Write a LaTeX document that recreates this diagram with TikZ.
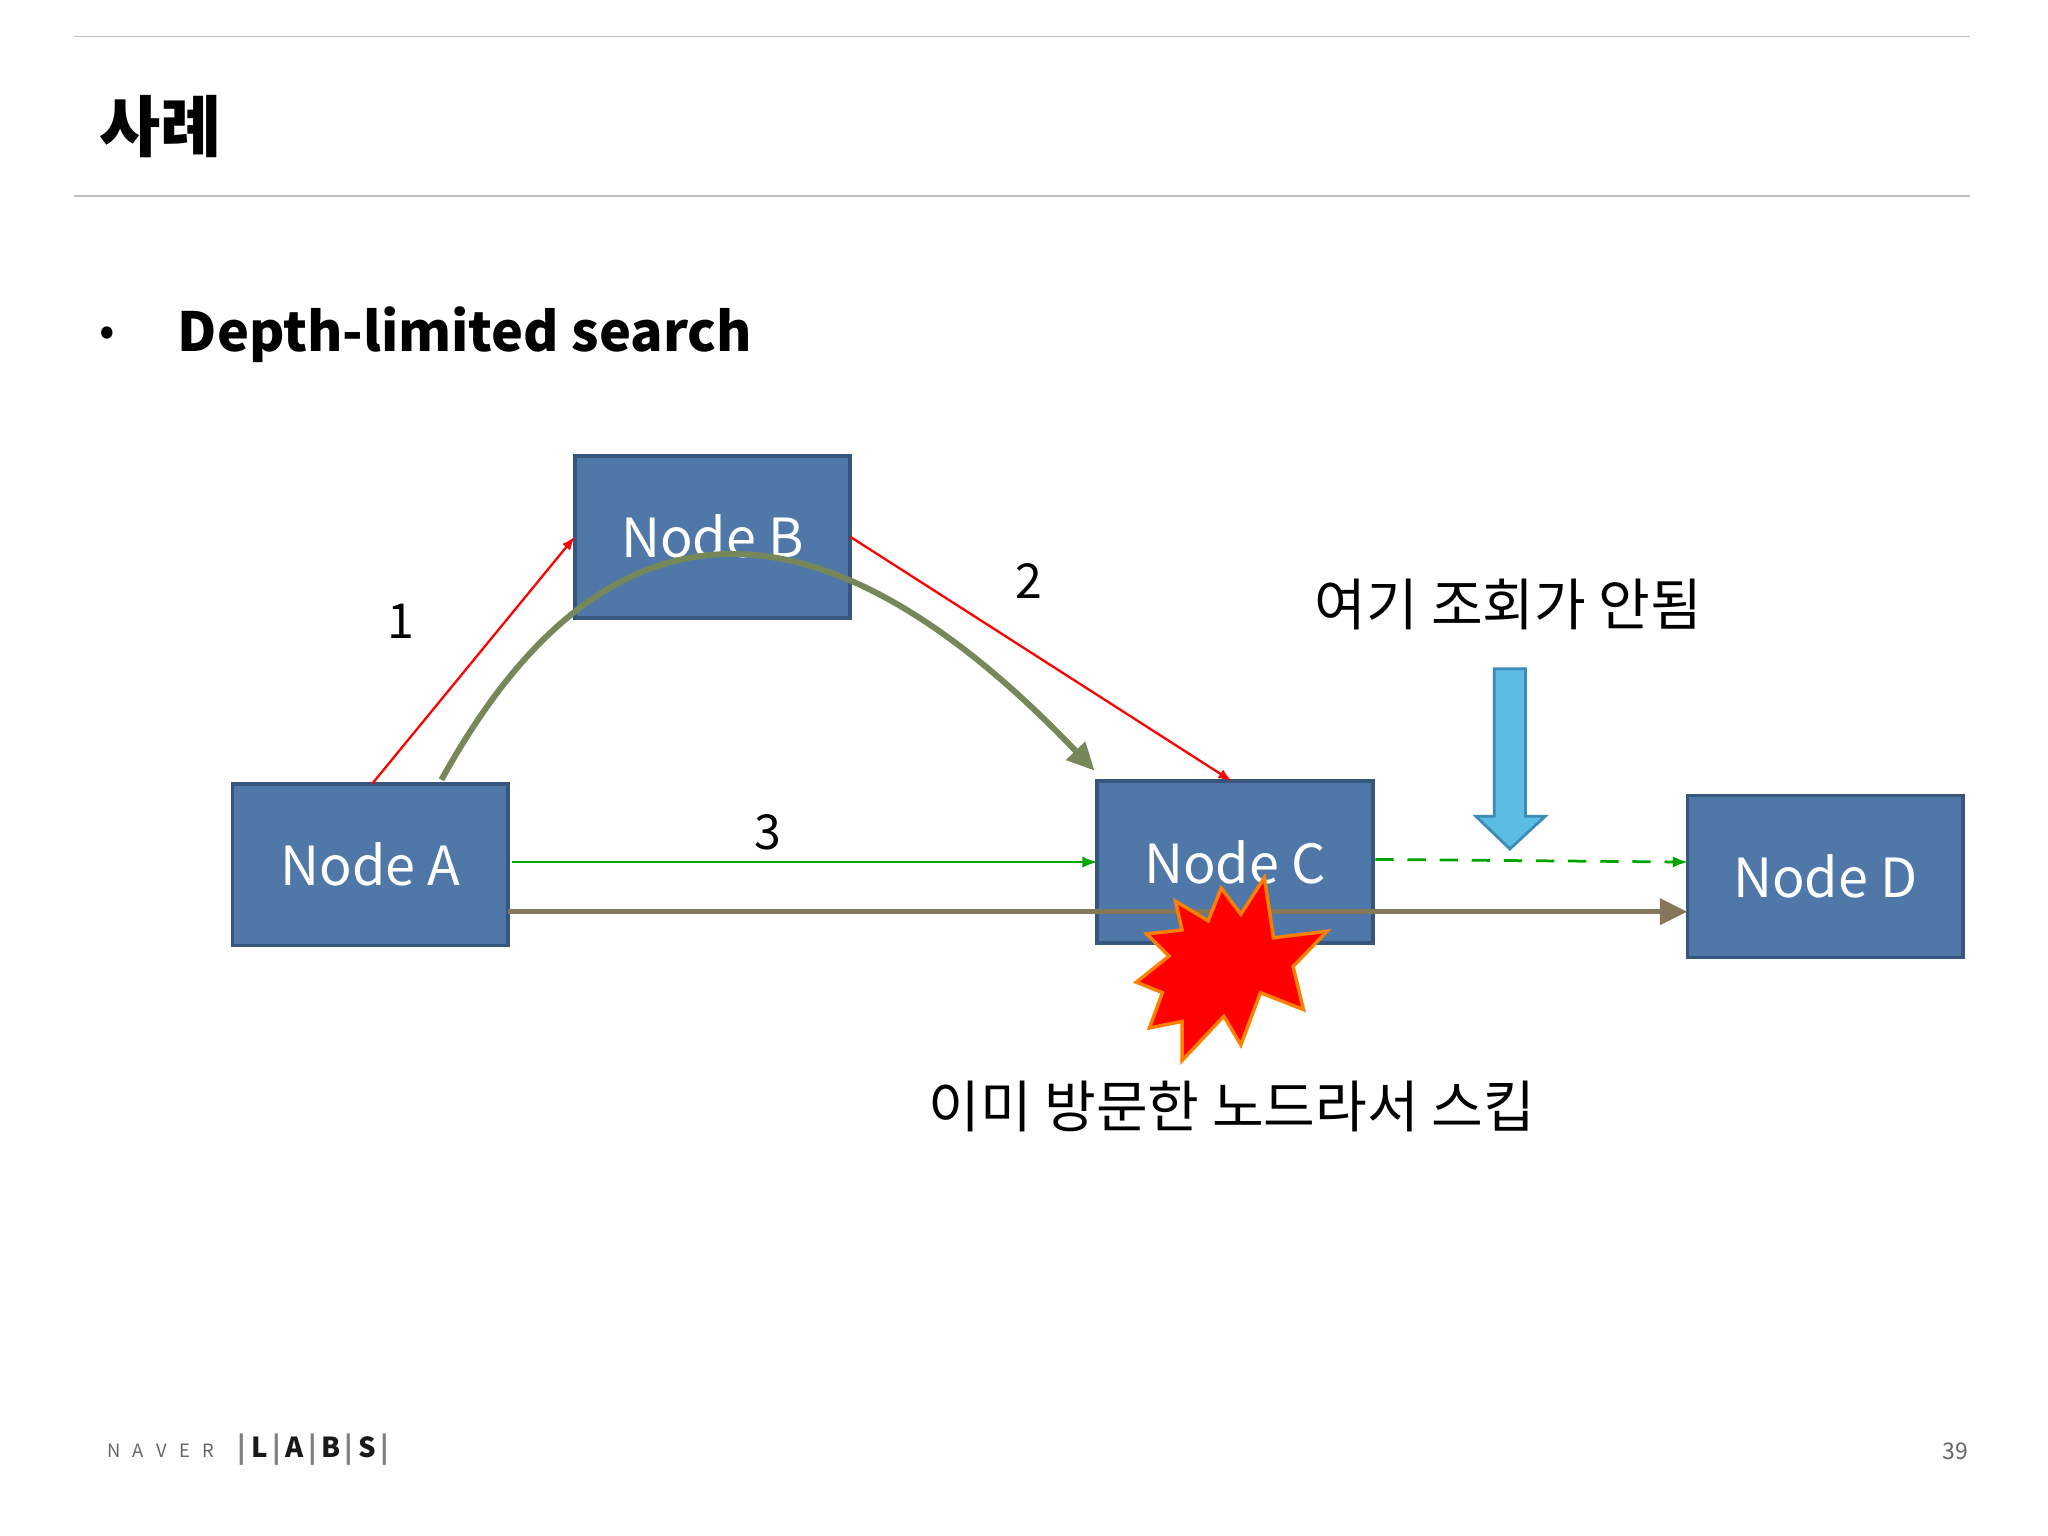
\documentclass[tikz,border=0pt]{standalone}
\usepackage{fontspec}
\usetikzlibrary{arrows.meta}
\setmainfont{Noto Sans CJK KR}
\begin{document}
\begin{tikzpicture}[x=0.02cm,y=-0.02cm,
  nodebox/.style={fill=nodefill, line width=1.6pt, minimum width=4.22cm, minimum height=2.48cm, text=white, font=\fontsize{23.5}{26}\selectfont, inner sep=0},
  lbl/.style={font=\fontsize{21}{24}\selectfont, inner sep=0},
  klbl/.style={font=\fontsize{24.5}{28}\selectfont, inner sep=0}]
\definecolor{nodefill}{HTML}{4F78A8}
\definecolor{nodeedge}{HTML}{36567E}
\definecolor{olive}{HTML}{76875A}
\definecolor{brownl}{HTML}{85785A}
\definecolor{skyb}{HTML}{5BBCE4}
\definecolor{skyedge}{HTML}{3A8CB5}
\tikzset{nodebox/.append style={draw=nodeedge}}
\useasboundingbox (0,0) rectangle (1568,1176);
\fill[white] (0,0) rectangle (1568,1176);
\draw[gray!50, line width=0.6pt] (57,28) -- (1508,28);
\draw[gray!50, line width=0.6pt] (57,150) -- (1508,150);
\node[anchor=west, font=\fontsize{29}{34}\selectfont\bfseries] (title) at (70,97) {사례};
\node[font=\fontsize{20}{24}\selectfont] (bul) at (82,258) {•};
\node[anchor=west, font=\fontsize{23.5}{28}\selectfont\bfseries] (sub) at (130,256) {Depth-limited search};
\node[nodebox] (B) at (545.5,411) {Node B};
\node[nodebox] (A) at (283.5,662) {Node A};
\node[nodebox] (C) at (945.5,660) {Node C};
\node[nodebox] (D) at (1397.5,671) {Node D};
\draw[red, line width=1pt, -latex] (285,600) -- (440,411);
\draw[red, line width=1pt, -latex] (651,411) -- (943,598);
\node[lbl] (l1) at (307,476) {1};
\node[lbl] (l2) at (788,445) {2};
\draw[green!65!black, line width=1.2pt, -latex] (392,660) -- (840,660);
\node[lbl] (l3) at (588,637) {3};
\draw[green!65!black, line width=1.2pt, dash pattern=on 8pt off 6pt, -latex] (1053,658) -- (1292,660);
\draw[brownl, line width=2.4pt, -{Triangle[length=12pt,width=11pt]}] (389,698) -- (1292,698);
\draw[olive, line width=2.6pt, -{Triangle[length=12pt,width=11pt]}] (338,597) .. controls (430,430) and (580,320) .. (838,590);
\draw[skyedge, fill=skyb, line width=1.2pt] (1144,512) -- (1168,512) -- (1168,625) -- (1183,625) -- (1156,650) -- (1130,625) -- (1144,625) -- cycle;
\node[klbl] (t1) at (1155,463) {여기 조회가 안됨};
\draw[orange, fill=red, line width=1.5pt] (968,672) -- (975,718) -- (1016,713) -- (990,740) -- (998,773) -- (965,760) -- (950,800) -- (937,778) -- (905,812) -- (905,782) -- (880,787) -- (890,760) -- (870,752) -- (895,732) -- (878,715) -- (905,712) -- (900,690) -- (925,705) -- (935,680) -- (950,700) -- cycle;
\node[klbl] (t2) at (943,847) {이미 방문한 노드라서 스킵};
\node[anchor=west, text=gray!80!black, font=\fontsize{8}{10}\selectfont] (naver) at (76,1111) {N\ \ \ A\ \ \ V\ \ \ E\ \ \ R};
\node[anchor=west, text=gray!20!black, font=\fontsize{12}{14}\selectfont\bfseries] (labs) at (176,1110) {\textcolor{gray}{|}\,L\,\textcolor{gray}{|}\,A\,\textcolor{gray}{|}\,B\,\textcolor{gray}{|}\,S\,\textcolor{gray}{|}};
\node[text=gray!80!black, font=\fontsize{10}{12}\selectfont] (pg) at (1497,1111) {39};
\end{tikzpicture}
\end{document}
